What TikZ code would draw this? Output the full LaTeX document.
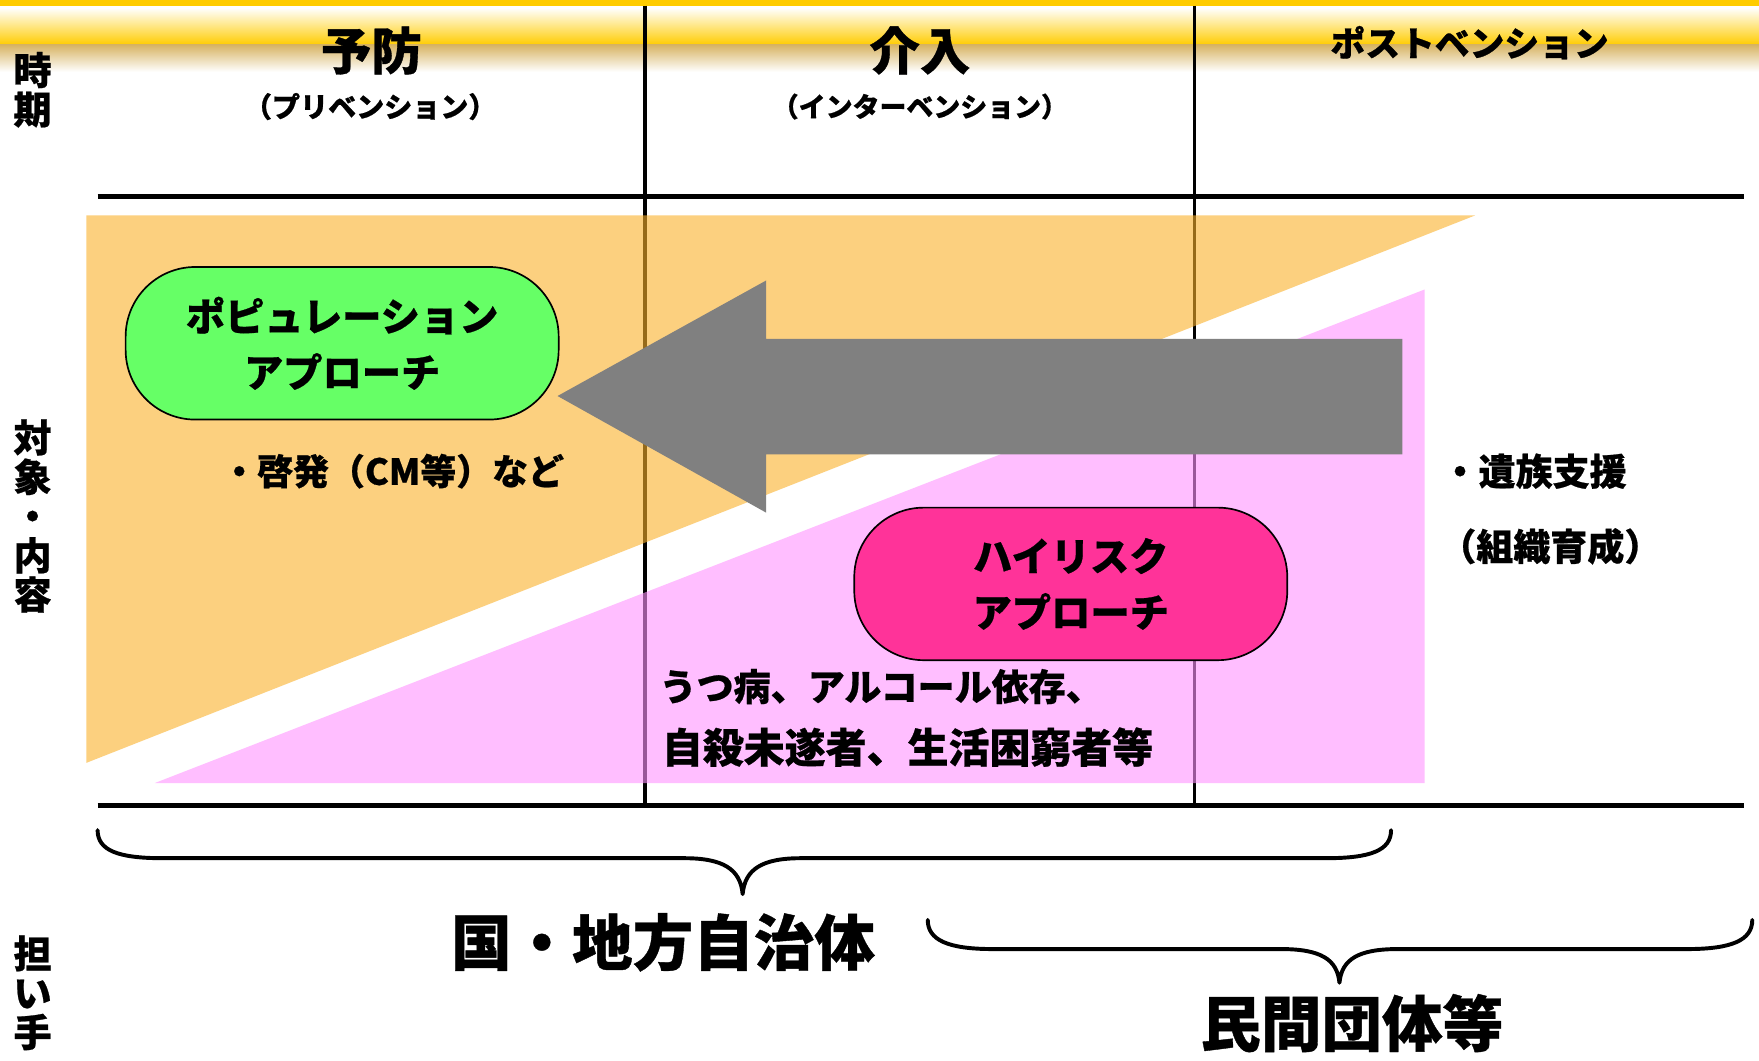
\documentclass[tikz,border=0pt]{standalone}
\usepackage{fontspec}
\setmainfont{Noto Sans CJK JP}[BoldFeatures={FakeBold=0.6}]
\definecolor{gold}{HTML}{FFCC00}
\definecolor{goldshade}{RGB}{215,180,100}
\definecolor{orangefill}{HTML}{FAB12B}
\definecolor{pinkfill}{HTML}{FF93FF}
\definecolor{arrowgray}{HTML}{808080}
\definecolor{greenbox}{HTML}{66FF66}
\definecolor{pinkbox}{HTML}{FF3399}
\tikzset{
  fs/.style={font=\bfseries\fontsize{#1}{#1}\selectfont},
  txt/.style={inner sep=0pt, outer sep=0pt, align=center},
  sidelbl/.style={txt, font=\bfseries\fontsize{34}{35}\selectfont},
  gridline/.style={line width=4pt},
  colline/.style={line width=3pt},
  pill/.style={draw=black, line width=1.5pt, rounded corners=62pt, minimum width=386pt, minimum height=136pt, inner sep=0pt, align=center, font=\bfseries\fontsize{35}{50}\selectfont},
  brace/.style={line width=3.5pt, line cap=round, line join=round},
}
\begin{document}
\begin{tikzpicture}[x=1pt,y=-1pt]
\useasboundingbox (0,0) rectangle (1568,945);
% header band
\fill[white] (0,0) rectangle (1568,945);
\shade[top color=white, bottom color=gold] (0,7) rectangle (1568,40);
\shade[top color=goldshade, bottom color=white] (0,40) rectangle (1568,64);
\fill[gold] (0,0) rectangle (1568,5.5);
% grid
\draw[colline] (575,5) -- (575,718);
\draw[colline] (1065,5) -- (1065,718);
\draw[gridline] (87,175) -- (1555,175);
\draw[gridline] (87,718) -- (1555,718);
% triangles
\fill[orangefill, opacity=0.6] (77,192) -- (1315,192) -- (77,680) -- cycle;
\fill[pinkfill, opacity=0.6] (138,698) -- (1270,258) -- (1270,698) -- cycle;
% big arrow
\fill[arrowgray] (497,353) -- (683,250) -- (683,302) -- (1250,302) -- (1250,405) -- (683,405) -- (683,457) -- cycle;
% boxes
\node[pill, fill=greenbox] (pop) at (305,306) {ポピュレーション\\アプローチ};
\node[pill, fill=pinkbox] (high) at (954.5,520.5) {ハイリスク\\アプローチ};
% header texts
\node[txt, fs=45] (yobo) at (331,45) {予防};
\node[txt, fs=25] (yobo2) at (330,95) {（プリベンション）};
\node[txt, fs=45] (kainyu) at (820,45) {介入};
\node[txt, fs=24] (kainyu2) at (820,95) {（インターベンション）};
\node[txt, fs=31] (post) at (1310,38) {ポストベンション};
% side labels
\node[sidelbl] (jiki) at (29,80) {時\\期};
\node[sidelbl] (taisho) at (29,460) {対\\象\\・\\内\\容};
\node[sidelbl] (ninaite) at (29,885) {担\\い\\手};
% content texts
\node[txt, fs=32] (keihatsu) at (350,420) {・啓発（CM等）など};
\node[txt, fs=33, anchor=west] (izoku) at (1285,420) {・遺族支援};
\node[txt, fs=33] (soshiki) at (1382,487) {（組織育成）};
\node[txt, anchor=west, fs=33] (target1) at (588,612) {うつ病、アルコール依存、};
\node[txt, anchor=west, fs=36.5] (target2) at (590,666) {自殺未遂者、生活困窮者等};
% braces
\draw[brace] (87,740) .. controls (87,758) and (105,765) .. (145,765) -- (610,765)
  .. controls (645,765) and (660,775) .. (662,797)
  .. controls (664,775) and (679,765) .. (714,765) -- (1182,765)
  .. controls (1222,765) and (1240,758) .. (1240,740);
\draw[brace] (827,820) .. controls (827,838) and (845,846) .. (885,846) -- (1142,846)
  .. controls (1177,846) and (1192,855) .. (1194,876)
  .. controls (1196,855) and (1211,846) .. (1246,846) -- (1504,846)
  .. controls (1544,846) and (1562,838) .. (1562,820);
% bottom texts
\node[txt, fs=54] (kuni) at (591,840) {国・地方自治体};
\node[txt, fs=54] (minkan) at (1205,912) {民間団体等};
\end{tikzpicture}
\end{document}
